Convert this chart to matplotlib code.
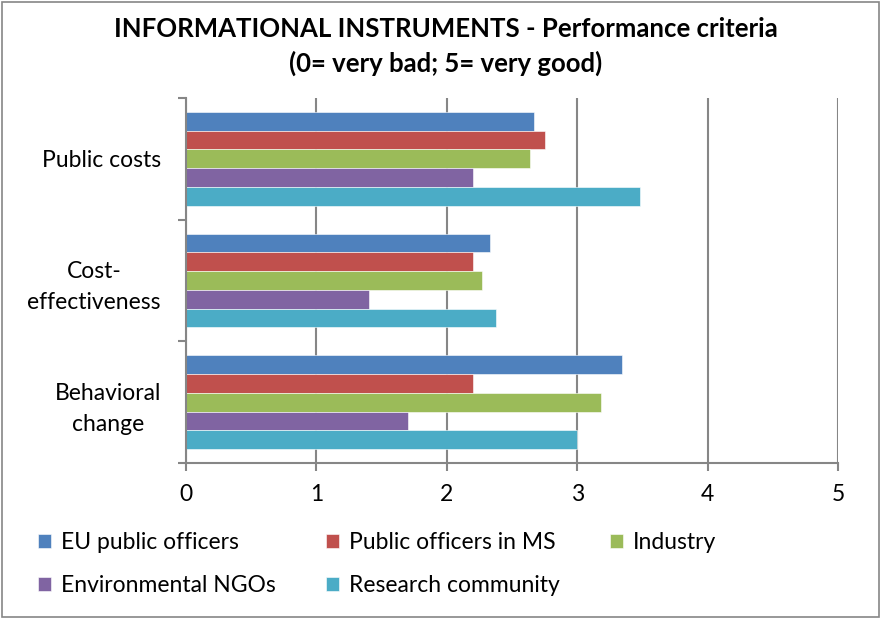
import matplotlib.pyplot as plt
import numpy as np
from matplotlib.patches import Rectangle

# data (bottom category first, as Excel draws it)
categories = ["Behavioral\nchange", "Cost-\neffectiveness", "Public costs"]
series = ["EU public officers", "Public officers in MS", "Industry",
          "Environmental NGOs", "Research community"]
eu_officers = [3.34, 2.33, 2.67]
ms_officers = [2.20, 2.20, 2.75]
industry = [3.18, 2.27, 2.64]
ngos = [1.70, 1.40, 2.20]
research = [3.00, 2.38, 3.48]
values = [eu_officers, ms_officers, industry, ngos, research]
colors = ["#4F81BD", "#C0504D", "#9BBB59", "#8064A2", "#4BACC6"]

plt.rcParams['font.family'] = ['Lato', 'DejaVu Sans']

fig = plt.figure(figsize=(8.82, 6.19), dpi=100)
ax = fig.add_axes([186 / 882, 156 / 619, 652 / 882, 365 / 619])

n = len(series)
h = 0.154
y = np.arange(len(categories))
bars = []
for i, (name, vals, c) in enumerate(zip(series, values, colors)):
    # first series at top of each group
    off = (n - 1) / 2 - i
    b = ax.barh(y + off * h, vals, height=h, color=c, label=name,
                edgecolor="white", linewidth=0.4)
    bars.append(b)

ax.set_xlim(0, 5)
ax.set_ylim(-0.5, len(categories) - 0.5)
ax.set_xticks(range(6))
ax.set_yticks(y)
ax.set_yticklabels(categories, fontsize=16.5, linespacing=1.55)
for lab in ax.get_yticklabels():
    lab.set_multialignment("center")
ax.set_yticks(np.arange(-0.5, len(categories), 1), minor=True)
ax.tick_params(axis='y', which='major', length=0, pad=18)
ax.tick_params(axis='y', which='minor', length=6, color="#868686", width=1.5)
ax.tick_params(axis='x', length=6, color="#868686", width=1.5, labelsize=16.5, pad=9)
ax.grid(axis='x', color="#868686", linewidth=1.5)
ax.set_axisbelow(True)
for s in ["top", "right"]:
    ax.spines[s].set_visible(False)
for s in ["left", "bottom"]:
    ax.spines[s].set_color("#868686")
    ax.spines[s].set_linewidth(1.5)

fig.text(0.505, 0.973, "INFORMATIONAL INSTRUMENTS - Performance criteria\n(0= very bad; 5= very good)",
         ha="center", va="top", fontsize=18.5, fontweight="bold", linespacing=1.45)

# Excel fills the legend row by row; matplotlib fills column by column
order = [0, 3, 1, 4, 2]
fig.legend([bars[i] for i in order], [series[i] for i in order],
           loc="upper left", bbox_to_anchor=(22 / 882, 1 - 516 / 619), ncol=3,
           frameon=False, fontsize=16.5, handlelength=0.55, handleheight=0.55,
           handletextpad=0.45, columnspacing=2.2, labelspacing=0.95,
           borderpad=0.2)

fig.patches.append(Rectangle((0.002, 0.003), 0.995, 0.994, transform=fig.transFigure,
                             fill=False, edgecolor="#868686", linewidth=1.2))

fig.savefig("out.png", dpi=100)
